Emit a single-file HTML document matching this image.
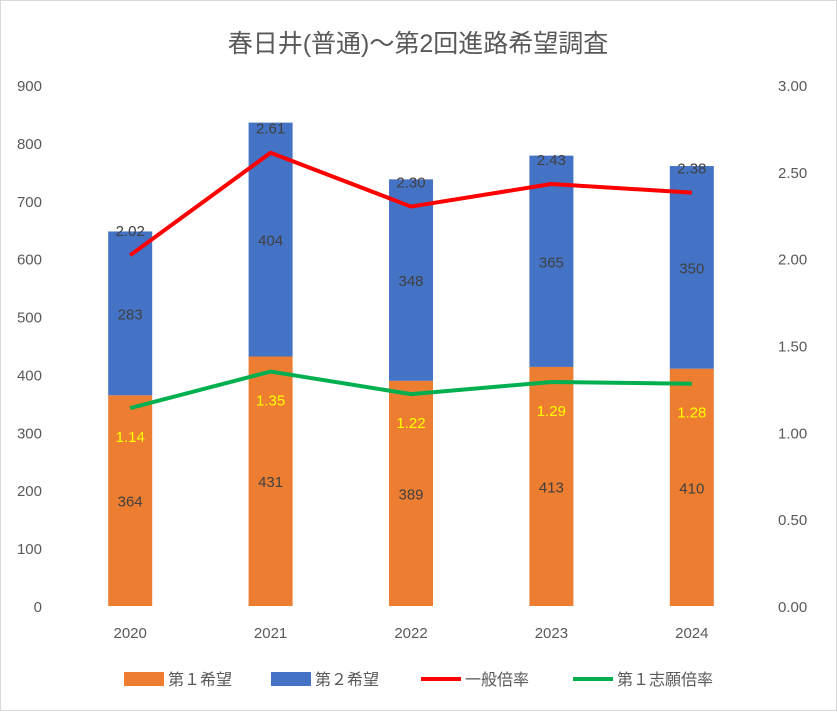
<!DOCTYPE html>
<html><head><meta charset="utf-8">
<style>
body{margin:0;background:#fff;}
#c{position:relative;width:837px;height:711px;}
text{font-family:"Liberation Sans","Noto Sans CJK JP",sans-serif;}
</style></head>
<body>
<div id="c">
<svg id="svg" width="837" height="711" xmlns="http://www.w3.org/2000/svg">
<rect x="0.5" y="0.5" width="836" height="710" fill="#fff" stroke="#d9d9d9"/>
<text x="418" y="52" text-anchor="middle" font-size="25" fill="#595959">春日井(普通)～第2回進路希望調査</text>
<g id="plot"></g>
<g>
<rect x="124" y="672" width="40" height="14" fill="#ED7D31"/>
<text x="168" y="685" font-size="16" fill="#595959">第１希望</text>
<rect x="271" y="672" width="40" height="14" fill="#4472C4"/>
<text x="315" y="685" font-size="16" fill="#595959">第２希望</text>
<line x1="421" y1="679" x2="461" y2="679" stroke="#FF0000" stroke-width="4"/>
<text x="465" y="685" font-size="16" fill="#595959">一般倍率</text>
<line x1="573" y1="679" x2="613" y2="679" stroke="#00B050" stroke-width="4"/>
<text x="617" y="685" font-size="16" fill="#595959">第１志願倍率</text>
</g>
</svg>
</div>
<script>
const categories=["2020","2021","2022","2023","2024"];
const firstChoice=[364,431,389,413,410];
const secondChoice=[283,404,348,365,350];
const generalRatio=[2.02,2.61,2.30,2.43,2.38];
const firstRatio=[1.14,1.35,1.22,1.29,1.28];
const leftTicks=[0,100,200,300,400,500,600,700,800,900];
const rightTicks=["0.00","0.50","1.00","1.50","2.00","2.50","3.00"];

const NS="http://www.w3.org/2000/svg";
const g=document.getElementById('plot');
const L=60,R=762,T=85,B=606;
const yL=v=>B-v/900*(B-T);
const yR=v=>B-v/3*(B-T);
const bw=(R-L)/categories.length;
const xC=i=>L+bw*(i+0.5);
function el(t,a,txt){const e=document.createElementNS(NS,t);for(const k in a)e.setAttribute(k,a[k]);if(txt!==undefined)e.textContent=txt;g.appendChild(e);return e;}

leftTicks.forEach(v=>{
 const e=el('text',{x:42,y:yL(v)+6,'text-anchor':'end','font-size':15,fill:'#595959'},v);
 
 
});
rightTicks.forEach(v=>{
 const e=el('text',{x:778,y:yR(parseFloat(v))+6,'font-size':15,fill:'#595959'},v);
 
 
});
categories.forEach((c,i)=>{
 const e=el('text',{x:xC(i),y:638,'text-anchor':'middle','font-size':15,fill:'#595959'},c);
 
 
});
const w=44;
categories.forEach((c,i)=>{
 const f=firstChoice[i],s=secondChoice[i];
 const r1=el('rect',{x:xC(i)-w/2,y:yL(f),width:w,height:B-yL(f),fill:'#ED7D31'});
 
 
 const r2=el('rect',{x:xC(i)-w/2,y:yL(f+s),width:w,height:yL(f)-yL(f+s),fill:'#4472C4'});
 
 
 const t1=el('text',{x:xC(i),y:(yL(f)+B)/2+6,'text-anchor':'middle','font-size':15,fill:'#404040'},f);
 
 
 const t2=el('text',{x:xC(i),y:(yL(f)+yL(f+s))/2+6,'text-anchor':'middle','font-size':15,fill:'#404040'},s);
 
 
});
const l1=el('polyline',{points:generalRatio.map((v,i)=>xC(i)+','+yR(v)).join(' '),fill:'none',stroke:'#FF0000','stroke-width':4,'stroke-linejoin':'round'});


const l2=el('polyline',{points:firstRatio.map((v,i)=>xC(i)+','+yR(v)).join(' '),fill:'none',stroke:'#00B050','stroke-width':4,'stroke-linejoin':'round'});


generalRatio.forEach((v,i)=>{
 const t=el('text',{x:xC(i),y:yR(v)-19,'text-anchor':'middle','font-size':15,fill:'#404040'},v.toFixed(2));
 
 
});
firstRatio.forEach((v,i)=>{
 const t=el('text',{x:xC(i),y:yR(v)+34,'text-anchor':'middle','font-size':15,fill:'#FFFF00'},v.toFixed(2));
 
 
});
</script>
</body></html>
